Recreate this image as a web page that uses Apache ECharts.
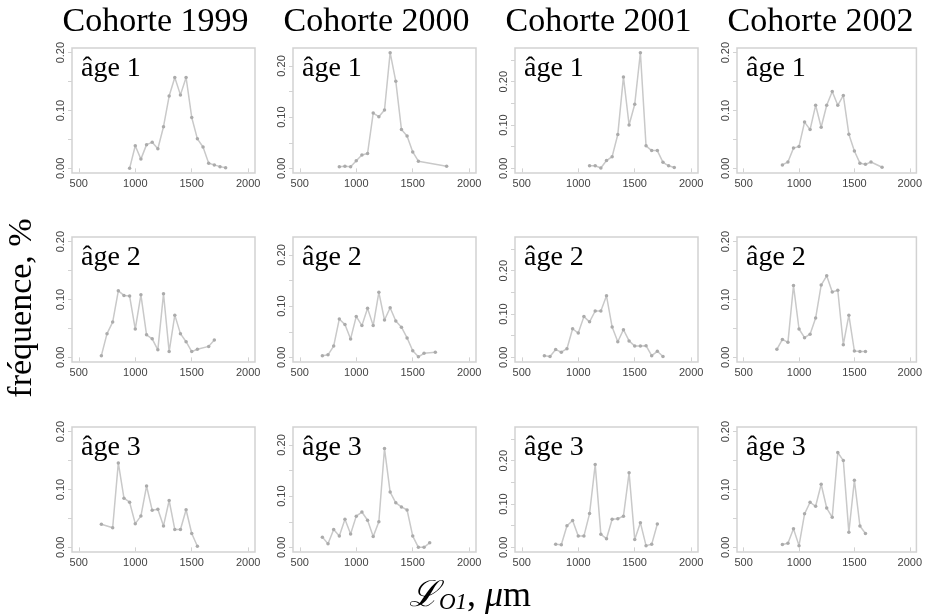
<!DOCTYPE html>
<html>
<head>
<meta charset="utf-8">
<script src="https://cdn.jsdelivr.net/npm/echarts@6/dist/echarts.min.js"></script>
<style>
html,body{margin:0;padding:0;background:#fff}
#chart{width:925px;height:614px}
</style>
</head>
<body>
<div id="chart"></div>
<script>
// Column and row headers
const cohorts = ['Cohorte 1999', 'Cohorte 2000', 'Cohorte 2001', 'Cohorte 2002'];
const ages = ['âge 1', 'âge 2', 'âge 3'];

// Axis ticks
const xTicks = [500, 1000, 1500, 2000];
const yTicks = [0, 0.05, 0.10, 0.15, 0.20, 0.25];
const yTickLabels = [0, 0.10, 0.20];

// Length-frequency distributions: length class (µm) and frequency
const L1999a1 = [950,1000,1050,1100,1150,1200,1250,1300,1350,1400,1450,1500,1550,1600,1650,1700,1750,1800];
const F1999a1 = [0.000,0.039,0.016,0.041,0.045,0.034,0.072,0.125,0.157,0.127,0.157,0.088,0.051,0.037,0.009,0.006,0.003,0.001];
const L1999a2 = [700,750,800,850,900,950,1000,1050,1100,1150,1200,1250,1300,1350,1400,1450,1500,1550,1650,1700];
const F1999a2 = [0.003,0.041,0.061,0.115,0.107,0.106,0.049,0.108,0.039,0.032,0.013,0.110,0.010,0.073,0.041,0.027,0.010,0.014,0.019,0.030];
const L1999a3 = [700,800,850,900,950,1000,1050,1100,1150,1200,1250,1300,1350,1400,1450,1500,1550];
const F1999a3 = [0.040,0.034,0.146,0.085,0.078,0.041,0.054,0.106,0.064,0.066,0.037,0.081,0.031,0.031,0.065,0.024,0.002];

const L2000a1 = [850,900,950,1000,1050,1100,1150,1200,1250,1300,1350,1400,1450,1500,1550,1800];
const F2000a1 = [0.003,0.004,0.003,0.015,0.026,0.029,0.108,0.101,0.114,0.226,0.170,0.076,0.063,0.032,0.014,0.004];
const L2000a2 = [700,750,800,850,900,950,1000,1050,1100,1150,1200,1250,1300,1350,1400,1450,1500,1550,1600,1700];
const F2000a2 = [0.003,0.005,0.022,0.075,0.064,0.036,0.080,0.062,0.096,0.062,0.127,0.073,0.097,0.071,0.059,0.038,0.013,0.001,0.008,0.010];
const L2000a3 = [700,750,800,850,900,950,1000,1050,1100,1150,1200,1250,1300,1350,1400,1450,1500,1550,1600,1650];
const F2000a3 = [0.020,0.007,0.035,0.022,0.055,0.026,0.061,0.069,0.053,0.021,0.050,0.193,0.108,0.087,0.079,0.073,0.022,0.000,0.000,0.009];

const L2001a1 = [1100,1150,1200,1250,1300,1350,1400,1450,1500,1550,1600,1650,1700,1750,1800,1850];
const F2001a1 = [0.006,0.006,0.001,0.018,0.027,0.078,0.211,0.100,0.148,0.267,0.052,0.041,0.041,0.014,0.006,0.002];
const L2001a2 = [700,750,800,850,900,950,1000,1050,1100,1150,1200,1250,1300,1350,1400,1450,1500,1550,1600,1650,1700,1750];
const F2001a2 = [0.004,0.002,0.018,0.012,0.020,0.066,0.056,0.094,0.082,0.107,0.107,0.142,0.070,0.036,0.064,0.038,0.026,0.026,0.027,0.004,0.014,0.002];
const L2001a3 = [800,850,900,950,1000,1050,1100,1150,1200,1250,1300,1350,1400,1450,1500,1550,1600,1650,1700];
const F2001a3 = [0.007,0.006,0.050,0.062,0.026,0.026,0.078,0.191,0.030,0.020,0.065,0.066,0.072,0.172,0.018,0.057,0.004,0.007,0.054];

const L2002a1 = [850,900,950,1000,1050,1100,1150,1200,1250,1300,1350,1400,1450,1500,1550,1600,1650,1750];
const F2002a1 = [0.006,0.011,0.035,0.038,0.080,0.067,0.109,0.071,0.109,0.133,0.109,0.126,0.059,0.030,0.009,0.007,0.011,0.002];
const L2002a2 = [800,850,900,950,1000,1050,1100,1150,1200,1250,1300,1350,1400,1450,1500,1550,1600];
const F2002a2 = [0.014,0.031,0.026,0.124,0.049,0.034,0.040,0.068,0.125,0.141,0.113,0.116,0.022,0.073,0.011,0.010,0.010];
const L2002a3 = [850,900,950,1000,1050,1100,1150,1200,1250,1300,1350,1400,1450,1500,1550,1600];
const F2002a3 = [0.005,0.007,0.032,0.003,0.058,0.078,0.071,0.109,0.068,0.052,0.164,0.150,0.026,0.116,0.037,0.024];

// panels[col][row] = [lengths, frequencies]
const panels = [
  [[L1999a1, F1999a1], [L1999a2, F1999a2], [L1999a3, F1999a3]],
  [[L2000a1, F2000a1], [L2000a2, F2000a2], [L2000a3, F2000a3]],
  [[L2001a1, F2001a1], [L2001a2, F2001a2], [L2001a3, F2001a3]],
  [[L2002a1, F2002a1], [L2002a2, F2002a2], [L2002a3, F2002a3]]
];

// Panel box layout (pixels)
const colLeft = [72, 293, 515, 737];
const rowTop = [48, 237, 427];
const boxW = 183, boxH = 125;

const SERIF = '"Liberation Serif", "DejaVu Serif", serif';
const SANS = '"Liberation Sans", Arial, sans-serif';
const LINE = '#c9c9c9';
const DOT = '#ababab';
const FRAME = '#d2d2d2';
const LABEL = '#444444';

const grids = [], xAxes = [], yAxes = [], series = [], titles = [];

panels.forEach((col, c) => {
  // y range shared by the cohort, at least 0.20, padded 4% on both sides
  const top = Math.max(0.2, ...col.map(p => Math.max(...p[1])));
  col.forEach((p, r) => {
    const i = grids.length;
    grids.push({
      left: colLeft[c], top: rowTop[r], width: boxW, height: boxH,
      show: true, borderColor: FRAME, borderWidth: 1.5, backgroundColor: 'transparent'
    });
    xAxes.push({
      type: 'value', gridIndex: i, min: 440, max: 2060,
      axisLine: { show: false },
      splitLine: { show: false },
      axisTick: { show: true, length: 4, lineStyle: { color: FRAME, width: 1 }, customValues: xTicks },
      axisLabel: { show: true, customValues: xTicks, color: LABEL, fontFamily: SANS, fontSize: 11, margin: 5,
                   formatter: v => String(v) }
    });
    yAxes.push({
      type: 'value', gridIndex: i, min: -0.04 * top, max: 1.04 * top,
      axisLine: { show: false },
      splitLine: { show: false },
      axisTick: { show: true, length: 4, lineStyle: { color: FRAME, width: 1 },
                  customValues: yTicks.filter(v => v <= top + 1e-9) },
      axisLabel: { show: true, customValues: yTickLabels, rotate: 90, color: LABEL,
                   fontFamily: SANS, fontSize: 11, margin: 6,
                   formatter: v => v.toFixed(2) }
    });
    series.push({
      type: 'line', xAxisIndex: i, yAxisIndex: i,
      data: p[0].map((x, k) => [x, p[1][k]]),
      symbol: 'circle', symbolSize: 3.5,
      itemStyle: { color: DOT },
      lineStyle: { color: LINE, width: 1.5 },
      silent: true, animation: false
    });
    titles.push({
      text: ages[r], left: colLeft[c] + 4, top: rowTop[r] + 2,
      textStyle: { fontFamily: SERIF, fontSize: 28, fontWeight: 'normal', color: '#000' }
    });
  });
  titles.push({
    text: cohorts[c], left: colLeft[c] + boxW / 2 - 13, top: 0, textAlign: 'center',
    textStyle: { fontFamily: SERIF, fontSize: 34, fontWeight: 'normal', color: '#000' }
  });
});

const chart = echarts.init(document.getElementById('chart'), null, { renderer: 'canvas' });
chart.setOption({
  backgroundColor: '#fff',
  animation: false,
  title: titles,
  grid: grids,
  xAxis: xAxes,
  yAxis: yAxes,
  series: series,
  graphic: [
    {
      type: 'text', x: 22, y: 308, rotation: Math.PI / 2,
      style: { text: 'fréquence, %', font: '34px ' + SERIF, fill: '#000',
               textAlign: 'center', textVerticalAlign: 'middle' }
    },
    {
      type: 'text', x: 470, y: 596,
      style: {
        text: '{L|ℒ}{s|O1}{t|, }{m|μ}{t|m}',
        textAlign: 'center', textVerticalAlign: 'middle',
        rich: {
          L: { fontFamily: SERIF, fontSize: 36, fontStyle: 'italic', fill: '#000', verticalAlign: 'bottom' },
          s: { fontFamily: SERIF, fontSize: 23, fontStyle: 'italic', fill: '#000', verticalAlign: 'bottom', padding: [14, 0, 0, 0] },
          t: { fontFamily: SERIF, fontSize: 36, fill: '#000', verticalAlign: 'bottom' },
          m: { fontFamily: SERIF, fontSize: 36, fontStyle: 'italic', fill: '#000', verticalAlign: 'bottom' }
        }
      }
    }
  ]
});
</script>
</body>
</html>
